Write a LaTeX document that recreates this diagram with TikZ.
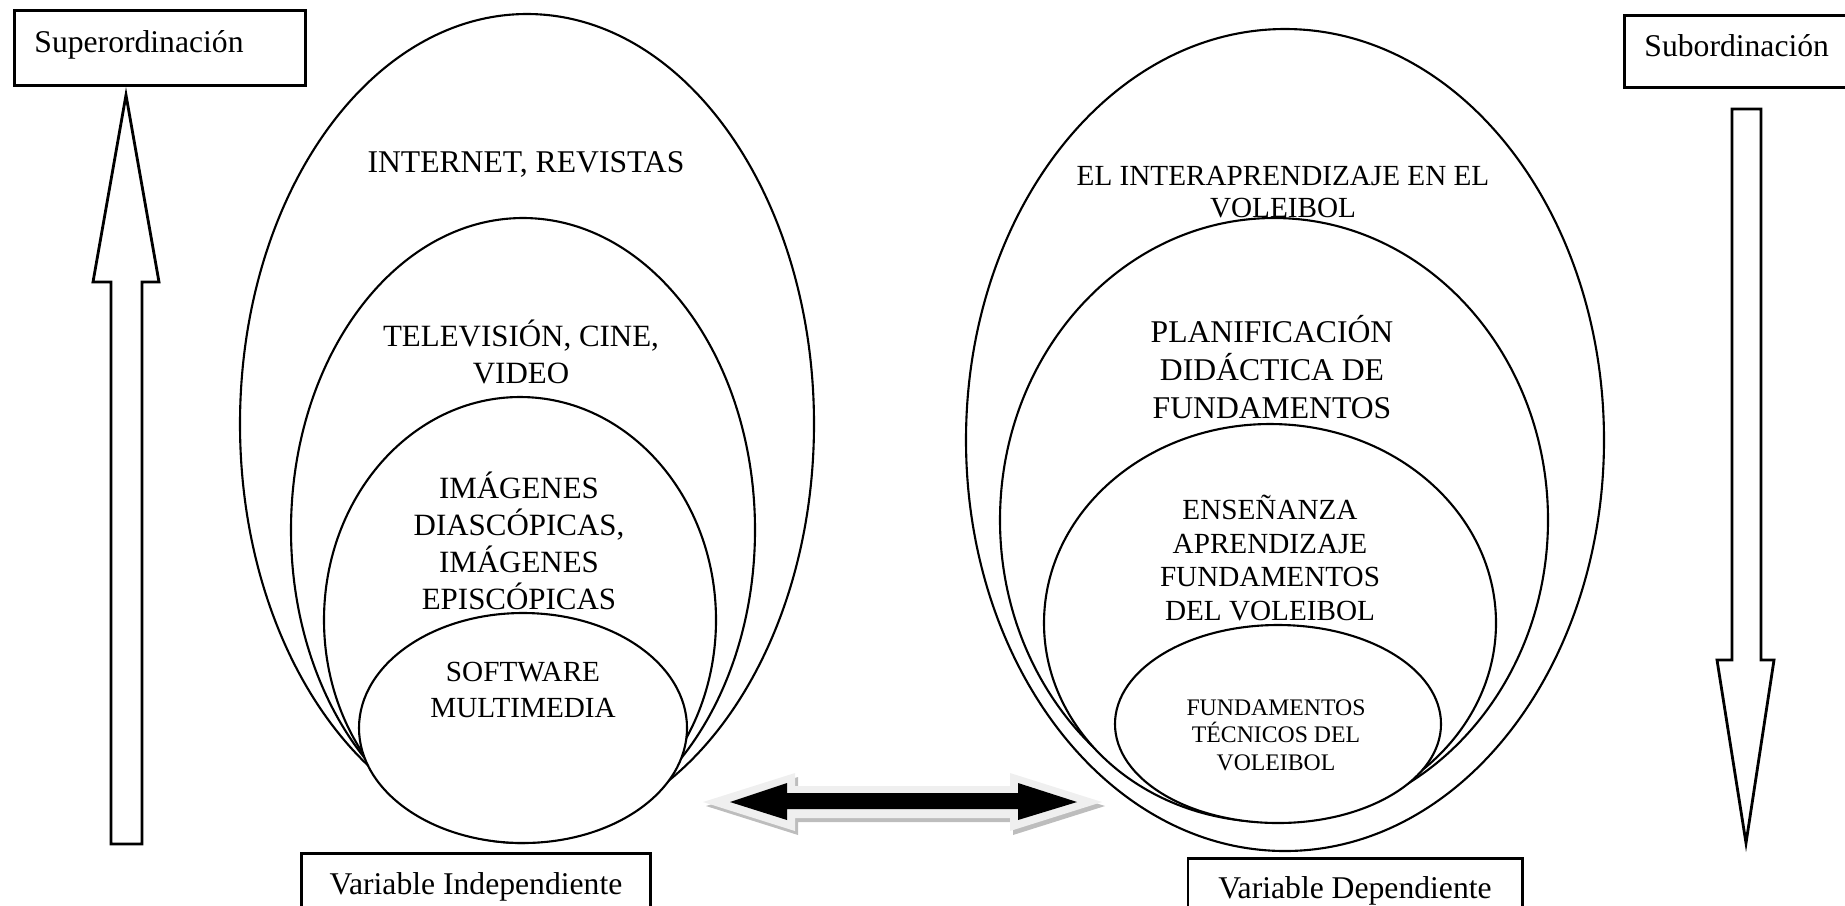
\documentclass[tikz,border=0pt]{standalone}
\usepackage{fontspec}
\setmainfont{Liberation Serif}
\definecolor{rimgray}{HTML}{EFEFEF}
\definecolor{shadegray}{HTML}{BDBDBD}

\begin{document}
\begin{tikzpicture}[x=0.01cm,y=-0.01cm,
  oval/.style={draw,fill=white,line width=0.6pt},
  lbl/.style={align=center,inner sep=0pt},
  tagbox/.style={draw,line width=0.8pt,fill=white,font=\fontsize{9}{10.5}\selectfont,inner ysep=0.13cm},
  hbox/.style={tagbox,anchor=north west,align=left,inner xsep=0.2cm},
  vbox/.style={tagbox,anchor=north,align=center,inner xsep=0pt,text depth=0.4cm},
  blockarrow/.style={draw,fill=white,line width=0.8pt}]
\useasboundingbox (0,0) rectangle (1845,905);
\clip (0,0) rectangle (1845,905);

\draw[oval] (527,424) ellipse (287 and 410);
\draw[oval] (523,530) ellipse (232 and 312);
\draw[oval] (520,620) ellipse (196 and 223);
\draw[oval] (523,728) ellipse (164 and 115);

\draw[oval] (1285,440) ellipse (319 and 411);
\draw[oval] (1274,520) ellipse (274 and 302);
\draw[oval] (1270,623) ellipse (226 and 199);
\draw[oval] (1278,724) ellipse (163 and 99);

\node[lbl,font=\fontsize{9}{10.4}\selectfont] (internet) at (526,164) {INTERNET, REVISTAS};
\node[lbl,font=\fontsize{8.8}{10.3}\selectfont] (tele) at (521,352) {TELEVISIÓN, CINE,\\VIDEO};
\node[lbl,font=\fontsize{8.8}{10.5}\selectfont] (imagenes) at (519,541) {IMÁGENES\\DIASCÓPICAS,\\IMÁGENES\\EPISCÓPICAS};
\node[lbl,font=\fontsize{8.3}{10}\selectfont] (software) at (523,690) {SOFTWARE\\MULTIMEDIA};

\node[lbl,font=\fontsize{8.3}{9.3}\selectfont] (interap) at (1283,192) {EL INTERAPRENDIZAJE EN EL\\VOLEIBOL};
\node[lbl,font=\fontsize{9}{10.7}\selectfont] (planif) at (1272,367) {PLANIFICACIÓN\\DIDÁCTICA DE\\FUNDAMENTOS};
\node[lbl,font=\fontsize{8.3}{9.6}\selectfont] (ensenanza) at (1270,558) {ENSEÑANZA\\APRENDIZAJE\\FUNDAMENTOS\\DEL VOLEIBOL};
\node[lbl,font=\fontsize{6.75}{7.8}\selectfont] (tecnicos) at (1276,735) {FUNDAMENTOS\\TÉCNICOS DEL\\VOLEIBOL};

\node[hbox,text height=0.29cm,text depth=0.20cm,text width=2.51cm] (super) at (13,9) {Superordinación};
\node[hbox,text height=0.28cm,text depth=0.18cm,text width=2.0cm] (subor) at (1623,14) {Subordinación};
\node[vbox,text height=0.28cm,minimum width=3.48cm] (indep) at (476,852) {Variable Independiente};
\node[vbox,text height=0.27cm,minimum width=3.34cm] (dep) at (1355,857) {Variable Dependiente};

\draw[blockarrow] (126,95) -- (159,282) -- (142,282) -- (142,844) -- (111,844) -- (111,282) -- (93,282) -- cycle;
\draw[blockarrow] (1746,843) -- (1774,660) -- (1761,660) -- (1761,109) -- (1732,109) -- (1732,660) -- (1717,660) -- cycle;

\fill[shadegray] (706,806) -- (798,777) -- (798,790) -- (1013,790) -- (1013,777) -- (1105,806) -- (1013,835) -- (1013,822) -- (798,822) -- (798,835) -- cycle;
\fill[rimgray] (703,802) -- (795,773) -- (795,786) -- (1010,786) -- (1010,773) -- (1102,802) -- (1010,831) -- (1010,818) -- (795,818) -- (795,831) -- cycle;
\fill[black] (730,802) -- (787,783) -- (787,793) -- (1018,793) -- (1018,783) -- (1077,802) -- (1018,820) -- (1018,809) -- (787,809) -- (787,820) -- cycle;
\end{tikzpicture}
\end{document}
